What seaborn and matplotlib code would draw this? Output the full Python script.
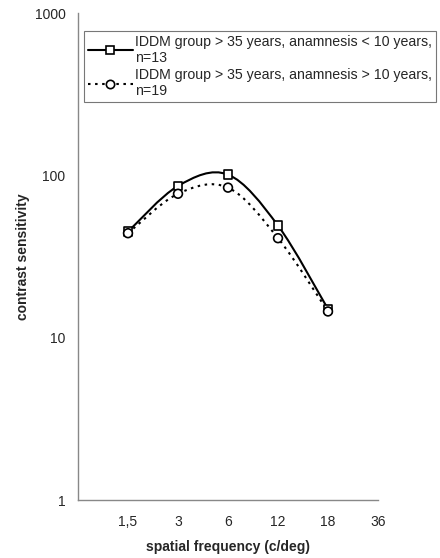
import numpy as np
import pandas as pd
import seaborn as sns
import matplotlib
matplotlib.use("Agg")
import matplotlib.pyplot as plt
from matplotlib.path import Path
from matplotlib.patches import PathPatch
from matplotlib.lines import Line2D

# ---- data ----
freq_labels = ["1,5", "3", "6", "12", "18", "36"]
freq_measured = ["1,5", "3", "6", "12", "18"]
group_short = [45, 86, 101, 49, 15]      # anamnesis < 10 years, n=13
group_long = [44, 77, 84, 41, 14.5]      # anamnesis > 10 years, n=19
label_short = "IDDM group > 35 years, anamnesis < 10 years,\nn=13"
label_long = "IDDM group > 35 years, anamnesis > 10 years,\nn=19"

sns.set_style("white")
plt.rcParams["font.family"] = ["Liberation Sans", "DejaVu Sans"]

fig = plt.figure(figsize=(4.4, 5.58), dpi=100)
ax = fig.add_axes([78/440, 1-500/558, 300/440, 487/558])

pos = [freq_labels.index(f) + 1 for f in freq_measured]
df = pd.DataFrame({
    "x": pos * 2,
    "cs": group_short + group_long,
    "group": [label_short] * len(pos) + [label_long] * len(pos),
})

def smooth_path(xs, ys):
    xs = np.asarray(xs, float)
    ly = np.log10(np.asarray(ys, float))
    P = np.column_stack([xs, ly])
    n = len(P)
    verts = [P[0]]
    codes = [Path.MOVETO]
    for i in range(n - 1):
        p0 = P[i - 1] if i > 0 else P[i]
        p1 = P[i]
        p2 = P[i + 1]
        p3 = P[i + 2] if i + 2 < n else P[i + 1]
        c1 = p1 + (p2 - p0) / 6.0
        c2 = p2 - (p3 - p1) / 6.0
        verts += [c1, c2, p2]
        codes += [Path.CURVE4] * 3
    verts = np.array(verts)
    verts[:, 1] = 10 ** verts[:, 1]
    return Path(verts, codes)

ax.set_yscale("log")
ax.add_patch(PathPatch(smooth_path(pos, group_short), fill=False, lw=1.5,
                       color="black", ls="-", zorder=2))
ax.add_patch(PathPatch(smooth_path(pos, group_long), fill=False, lw=1.5,
                       color="black", ls=(0, (1.2, 2.2)), zorder=2))

sns.scatterplot(data=df, x="x", y="cs", style="group",
                markers={label_short: "s", label_long: "o"},
                s=40, facecolor="white", edgecolor="black", linewidth=1.2,
                ax=ax, legend=False, zorder=3)

ax.set_xlim(0, 6)
ax.set_ylim(1, 1000)
ax.set_xticks(range(0, 7))
ax.set_xticklabels([""] + freq_labels)
ax.set_yticks([1, 10, 100, 1000])
ax.set_yticklabels(["1", "10", "100", "1000"])
ax.yaxis.set_minor_locator(matplotlib.ticker.NullLocator())

for s in ["top", "right"]:
    ax.spines[s].set_visible(False)
for s in ["left", "bottom"]:
    ax.spines[s].set_color("#888888")
    ax.spines[s].set_linewidth(1.0)
ax.tick_params(axis="x", direction="inout", length=7, width=0.8,
               color="#888888", labelsize=10, pad=7)
ax.tick_params(axis="y", direction="out", length=5, width=0.8,
               color="#888888", labelsize=10, pad=4)

ax.set_xlabel("spatial frequency (c/deg)", fontsize=10, fontweight="bold",
              labelpad=8)
ax.set_ylabel("contrast sensitivity", fontsize=10, fontweight="bold",
              labelpad=3)

handles = [
    Line2D([], [], color="black", lw=1.5, ls="-", marker="s", markersize=6,
           markerfacecolor="white", markeredgecolor="black", markeredgewidth=1.2),
    Line2D([], [], color="black", lw=1.5, ls=(0, (1.2, 2.2)), marker="o",
           markersize=6, markerfacecolor="white", markeredgecolor="black",
           markeredgewidth=1.2),
]
leg = fig.legend(handles, [label_short, label_long], loc="upper left",
                 bbox_to_anchor=(84/440, 1-31/558), fontsize=10.2,
                 frameon=True, fancybox=False, edgecolor="#555555",
                 handlelength=3.2, handletextpad=0.15, labelspacing=0.25,
                 borderpad=0.25, borderaxespad=0)
leg.get_frame().set_linewidth(0.8)

fig.savefig("out.png", dpi=100)
